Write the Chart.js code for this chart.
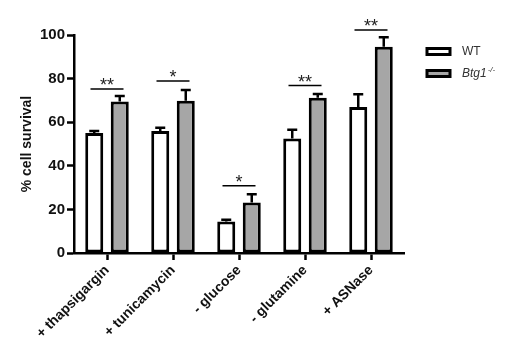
<!DOCTYPE html>
<html lang="en">
<head>
<meta charset="UTF-8">
<script src="https://cdn.jsdelivr.net/npm/chart.js"></script>
<style>
  html, body { margin: 0; padding: 0; background: #fff; }
  #wrap { width: 520px; height: 359px; }
</style>
</head>
<body>
<div id="wrap"><canvas id="myChart" width="520" height="359"></canvas></div>
<script>
// values
var treatments = ['+ thapsigargin', '+ tunicamycin', '- glucose', '- glutamine', '+ ASNase'];
var wtSurvival = [55, 56, 14.5, 52.5, 67];
var wtError = [1, 1.5, 0.8, 4, 5.8];
var btgSurvival = [69.5, 69.8, 23.2, 71.2, 94.6];
var btgError = [2.5, 5, 3.8, 1.7, 4.4];
var sigLevel = [75.2, 78.9, 30.9, 76.8, 102.3];
var sigStars = ['**', '*', '*', '**', '**'];
var yTicks = [0, 20, 40, 60, 80, 100];
var seriesNames = ['WT', 'Btg1'];
var seriesSup = ['', '-/-'];

var FONT = '"Liberation Sans", Arial, sans-serif';

var errorBars = {
    id: 'errorBars',
    afterDatasetsDraw: function (chart) {
        var ctx = chart.ctx, y = chart.scales.y;
        var errs = [wtError, btgError];
        ctx.save();
        ctx.strokeStyle = '#000';
        ctx.lineWidth = 2.5;
        chart.data.datasets.forEach(function (ds, di) {
            chart.getDatasetMeta(di).data.forEach(function (bar, i) {
                var top = y.getPixelForValue(ds.data[i] + errs[di][i]);
                ctx.beginPath();
                ctx.moveTo(bar.x, bar.y);
                ctx.lineTo(bar.x, top);
                ctx.moveTo(bar.x - 5, top);
                ctx.lineTo(bar.x + 5, top);
                ctx.stroke();
            });
        });
        ctx.restore();
    }
};

var sigMarks = {
    id: 'sigMarks',
    afterDraw: function (chart) {
        var ctx = chart.ctx, x = chart.scales.x, y = chart.scales.y;
        var half = (x.getPixelForValue(1) - x.getPixelForValue(0)) * 0.25;
        ctx.save();
        sigLevel.forEach(function (lv, i) {
            var cx = x.getPixelForValue(i), py = y.getPixelForValue(lv);
            ctx.strokeStyle = '#000';
            ctx.lineWidth = 1.5;
            ctx.beginPath();
            ctx.moveTo(cx - half, py);
            ctx.lineTo(cx + half, py);
            ctx.stroke();
            ctx.fillStyle = '#222';
            ctx.font = '18px ' + FONT;
            ctx.textAlign = 'center';
            ctx.textBaseline = 'alphabetic';
            ctx.fillText(sigStars[i], cx, py + 2);
        });
        ctx.restore();
    }
};

// legend drawn by hand so the superscript / italic can be kept
var sideLegend = {
    id: 'sideLegend',
    afterDraw: function (chart) {
        var ctx = chart.ctx;
        ctx.save();
        chart.data.datasets.forEach(function (ds, i) {
            var top = 48.5 + i * 22;
            ctx.fillStyle = ds.backgroundColor;
            ctx.fillRect(427, top, 23, 6);
            ctx.strokeStyle = '#000';
            ctx.lineWidth = 3;
            ctx.strokeRect(427, top, 23, 6);
            ctx.fillStyle = '#333';
            ctx.textBaseline = 'middle';
            ctx.textAlign = 'left';
            ctx.font = (i === 1 ? 'italic ' : '') + '12px ' + FONT;
            ctx.fillText(seriesNames[i], 462, top + 3);
            if (seriesSup[i]) {
                var w = ctx.measureText(seriesNames[i]).width;
                ctx.font = (i === 1 ? 'italic ' : '') + '8px ' + FONT;
                ctx.fillText(seriesSup[i], 462 + w + 1, top - 1);
            }
        });
        ctx.restore();
    }
};

var ctx = document.getElementById('myChart').getContext('2d');
var myChart = new Chart(ctx, {
    type: 'bar',
    data: {
        labels: treatments,
        datasets: [
            { label: 'WT', data: wtSurvival, backgroundColor: '#ffffff' },
            { label: 'Btg1-/-', data: btgSurvival, backgroundColor: '#a6a6a6' }
        ]
    },
    options: {
        responsive: false,
        animation: false,
        devicePixelRatio: 1,
        layout: { padding: { left: 0, right: 116, top: 35, bottom: 0 } },
        datasets: {
            bar: {
                borderColor: '#000',
                borderWidth: 3,
                borderSkipped: false,
                categoryPercentage: 0.773,
                barPercentage: 0.706
            }
        },
        plugins: { legend: { display: false }, tooltip: { enabled: false } },
        scales: {
            x: {
                afterFit: function (s) { s.height = 106; },
                grid: { display: true, drawOnChartArea: false, offset: false, tickLength: 7, tickColor: '#000', tickWidth: 2.5 },
                border: { color: '#000', width: 2.5 },
                ticks: {
                    autoSkip: false, maxRotation: 45, minRotation: 45, padding: 2,
                    color: '#111', font: { family: FONT, size: 14, weight: 'bold' }
                }
            },
            y: {
                min: 0, max: 100,
                afterFit: function (s) { s.width = 74; },
                afterBuildTicks: function (s) { s.ticks = yTicks.map(function (v) { return { value: v }; }); },
                grid: { display: true, drawOnChartArea: false, tickLength: 7, tickColor: '#000', tickWidth: 2.5 },
                border: { color: '#000', width: 2.5 },
                ticks: { padding: 2, color: '#111', font: { family: FONT, size: 15, weight: 'bold' } },
                title: {
                    display: true, text: '% cell survival', color: '#111',
                    padding: { top: 19, bottom: 0 },
                    font: { family: FONT, size: 14, weight: 'bold' }
                }
            }
        }
    },
    plugins: [errorBars, sigMarks, sideLegend]
});
</script>
</body>
</html>
